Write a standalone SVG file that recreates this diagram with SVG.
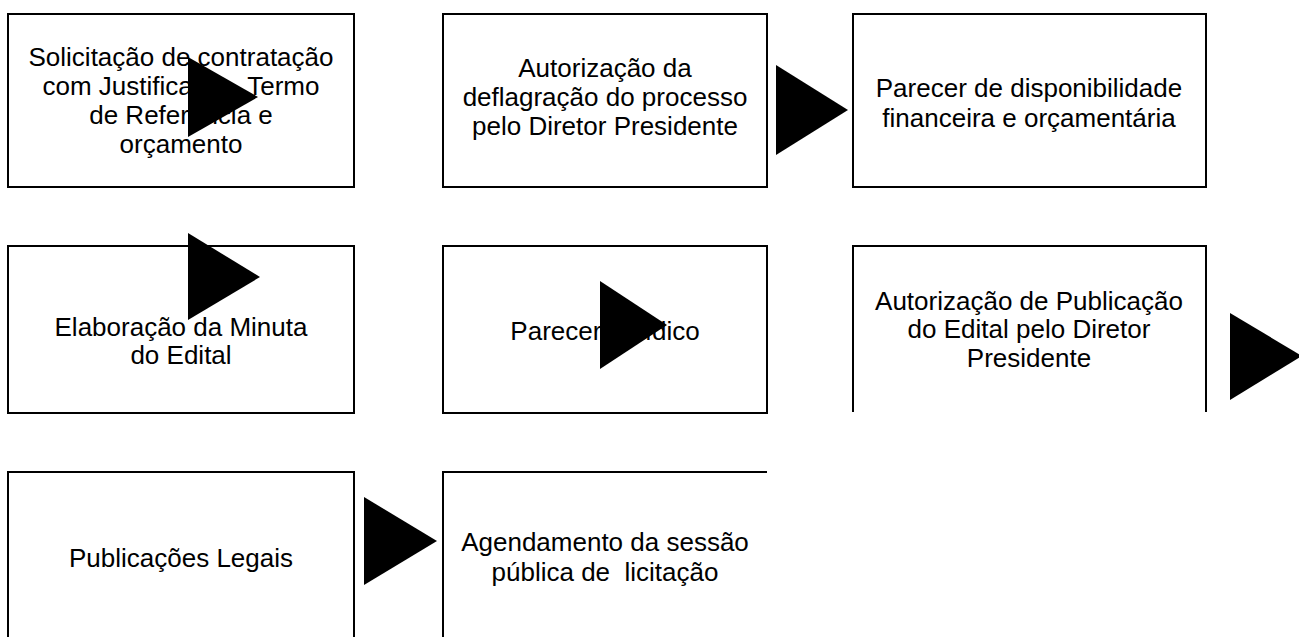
<svg xmlns="http://www.w3.org/2000/svg" width="1299" height="637" viewBox="0 0 1299 637">
<style>
.box{fill:none;stroke:#000;stroke-width:2}
.t{font-family:"Liberation Sans",Arial,sans-serif;font-size:26px;fill:#000;text-anchor:middle;white-space:pre}
.arr{fill:#000}
</style>
<rect x="0" y="0" width="1299" height="637" fill="#fff"/>
<g id="n1">
<rect class="box" x="8" y="14" width="346" height="173"/>
<text class="t" x="181" y="66">Solicitação de contratação</text>
<text class="t" x="181" y="95">com Justificativa, Termo</text>
<text class="t" x="181" y="124">de Referência e</text>
<text class="t" x="181" y="153">orçamento</text>
</g>
<g id="n2">
<rect class="box" x="443" y="14" width="324" height="173"/>
<text class="t" x="605" y="77">Autorização da</text>
<text class="t" x="605" y="106">deflagração do processo</text>
<text class="t" x="605" y="135">pelo Diretor Presidente</text>
</g>
<g id="n3">
<rect class="box" x="853" y="14" width="353" height="173"/>
<text class="t" x="1029" y="97">Parecer de disponibilidade</text>
<text class="t" x="1029" y="127">financeira e orçamentária</text>
</g>
<g id="n4">
<rect class="box" x="8" y="246" width="346" height="167"/>
<text class="t" x="181" y="336">Elaboração da Minuta</text>
<text class="t" x="181" y="364">do Edital</text>
</g>
<g id="n5">
<rect class="box" x="443" y="246" width="324" height="167"/>
<text class="t" x="605" y="340">Parecer Jurídico</text>
</g>
<g id="n6">
<path class="box" d="M853,412 V246 H1206 V412"/>
<text class="t" x="1029" y="310">Autorização de Publicação</text>
<text class="t" x="1029" y="338">do Edital pelo Diretor</text>
<text class="t" x="1029" y="367">Presidente</text>
</g>
<g id="n7">
<path class="box" d="M8,640 V472 H354 V640"/>
<text class="t" x="181" y="567">Publicações Legais</text>
</g>
<g id="n8">
<path class="box" d="M443,640 V472 H767"/>
<text class="t" x="605" y="551">Agendamento da sessão</text>
<text class="t" x="605" y="581">pública de  licitação</text>
</g>
<g id="connectors">
<polygon class="arr" points="188,57 188,137 258,97"/>
<polygon class="arr" points="776,65 776,155 848,110"/>
<polygon class="arr" points="188,233 188,320 260,277"/>
<polygon class="arr" points="600,281 600,369 667,325"/>
<polygon class="arr" points="1230,313 1230,400 1302,356"/>
<polygon class="arr" points="364,497 364,585 437,541"/>
</g>
</svg>
